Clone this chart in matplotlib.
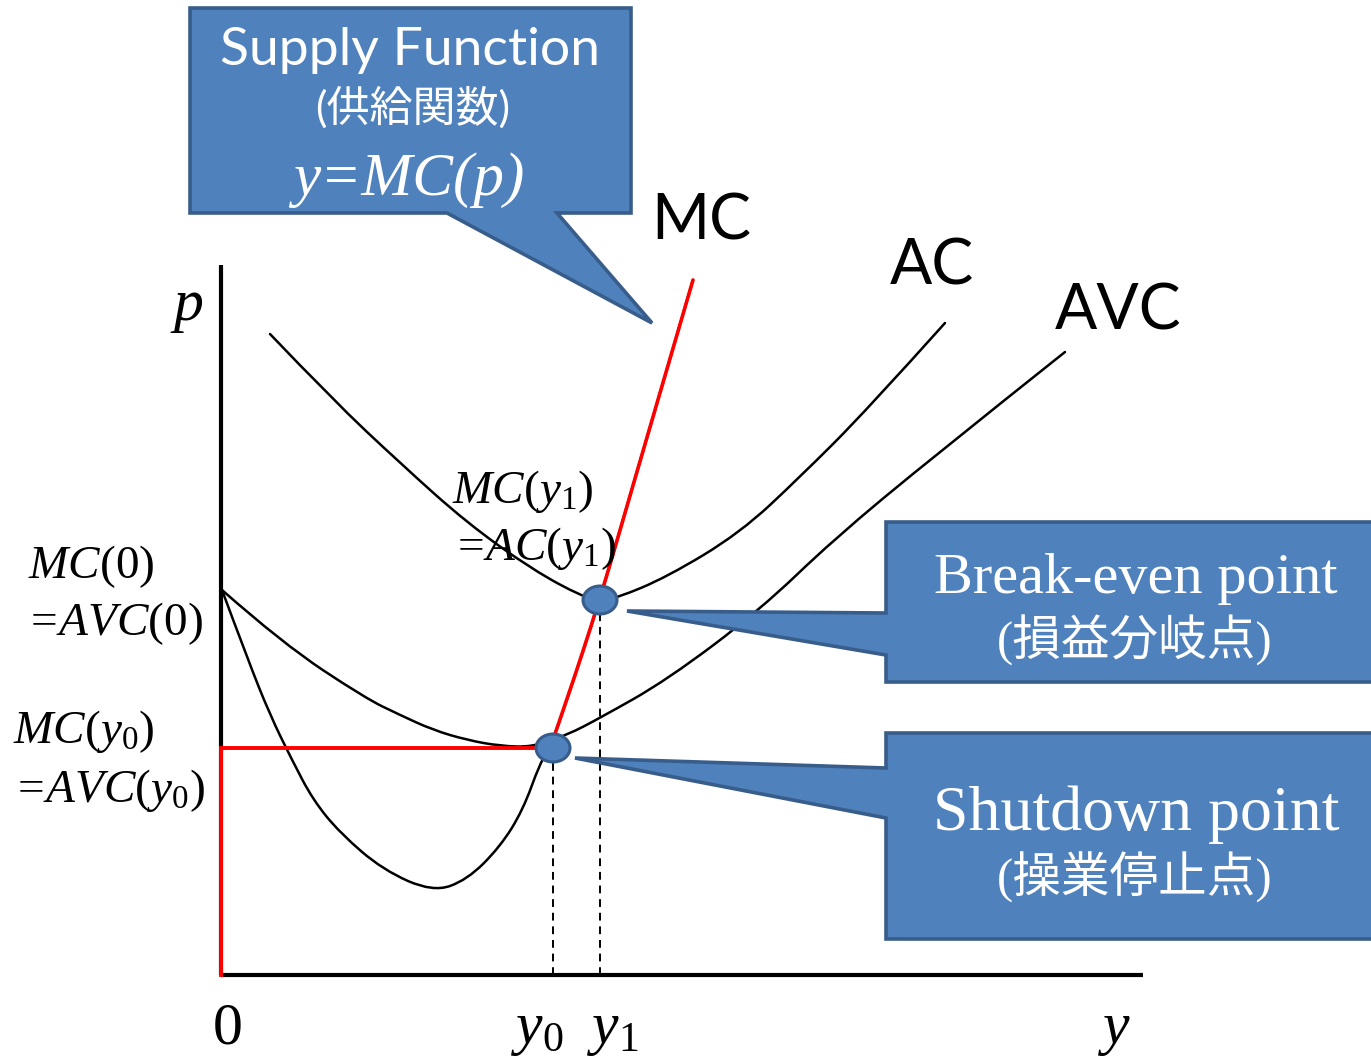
import matplotlib
matplotlib.use("Agg")
import matplotlib.pyplot as plt
from matplotlib.patches import Polygon, Ellipse, PathPatch
from matplotlib.path import Path

plt.rcParams['mathtext.fontset'] = 'custom'
plt.rcParams['mathtext.rm'] = 'Liberation Serif'
plt.rcParams['mathtext.it'] = 'Liberation Serif:italic'

# curves (quantity y on x-axis, price p on y-axis)
mc_y = [0.01, 0.27, 0.49, 0.71, 0.92, 1.19, 1.62, 2.12, 2.46, 2.79, 3.02, 3.19, 3.29, 3.46, 3.79, 4.04, 4.29, 4.72]
mc_p = [3.85, 3.15, 2.60, 2.15, 1.75, 1.42, 1.05, 0.83, 0.95, 1.28, 1.65, 2.12, 2.27, 2.75, 3.76, 4.62, 5.48, 6.95]

avc_y = [0.01, 0.61, 1.44, 1.79, 2.12, 2.46, 2.79, 3.12, 3.46, 3.79, 4.46, 5.39, 6.12, 7.12, 8.44]
avc_p = [3.85, 3.32, 2.77, 2.60, 2.45, 2.35, 2.29, 2.28, 2.40, 2.57, 2.95, 3.65, 4.35, 5.18, 6.23]

ac_y = [0.49, 1.12, 1.79, 2.46, 3.12, 3.62, 3.79, 3.96, 4.46, 5.19, 5.79, 6.46, 7.24]
ac_p = [6.41, 5.75, 5.12, 4.52, 4.05, 3.78, 3.75, 3.77, 3.98, 4.42, 4.98, 5.65, 6.52]

# key points
y0, p0 = 3.32, 2.27   # shutdown
y1, p1 = 3.79, 3.75   # break-even

# supply curve (red): zero up to p0, then MC
floor_y = [0, 0, 3.29]
floor_p = [0, p0, p0]
supply_y = [3.29, 3.46, 3.79, 4.04, 4.29, 4.72]
supply_p = [p0, 2.75, 3.76, 4.62, 5.48, 6.95]

fill = '#4F81BD'
edge = '#385D8A'
jp = 'Noto Sans CJK JP'


def smooth(ax, xs, ys, **kw):
    # quadratic bezier through the midpoints, read points as controls
    pts = list(zip(xs, ys))
    verts = [pts[0]]
    codes = [Path.MOVETO]
    for i in range(1, len(pts) - 1):
        mid = ((pts[i][0] + pts[i + 1][0]) / 2, (pts[i][1] + pts[i + 1][1]) / 2)
        if i == len(pts) - 2:
            mid = pts[-1]
        verts += [pts[i], mid]
        codes += [Path.CURVE3, Path.CURVE3]
    ax.add_patch(PathPatch(Path(verts, codes), fill=False, capstyle='round', **kw))


fig = plt.figure(figsize=(13.71, 10.62), dpi=100)
ax = fig.add_axes([0, 0, 1, 1])
ax.set_xlim(-2.21, 11.50)
ax.set_ylim(-0.87, 9.75)
ax.axis('off')

# axes
ax.plot([0, 0], [0, 7.10], color='black', lw=3, solid_capstyle='butt')
ax.plot([0, 9.22], [0, 0], color='black', lw=3, solid_capstyle='butt')

# guides
ax.plot([y0, y0], [0, p0 - 0.15], color='black', lw=1.4, dashes=(4, 3))
ax.plot([y1, y1], [0, p1 - 0.15], color='black', lw=1.4, dashes=(4, 3))

# cost curves
smooth(ax, ac_y, ac_p, edgecolor='black', lw=1.8)
smooth(ax, avc_y, avc_p, edgecolor='black', lw=1.8)
smooth(ax, mc_y, mc_p, edgecolor='black', lw=1.8)
ax.plot(floor_y, floor_p, color='red', lw=2.8, solid_joinstyle='miter')
smooth(ax, supply_y, supply_p, edgecolor='red', lw=2.6, zorder=3)

for (px, pp) in [(y0, p0), (y1, p1)]:
    ax.add_patch(Ellipse((px, pp), 0.34, 0.28, facecolor=fill, edgecolor=edge, lw=2.2, zorder=5))

# callouts
supply_box = [(-0.31, 9.67), (4.10, 9.67), (4.10, 7.62), (3.36, 7.62), (4.31, 6.52), (2.26, 7.62), (-0.31, 7.62)]
be_box = [(6.65, 4.53), (11.8, 4.53), (11.8, 2.93), (6.65, 2.93), (6.65, 3.20), (4.06, 3.64), (6.65, 3.62)]
sd_box = [(6.65, 2.42), (11.8, 2.42), (11.8, 0.36), (6.65, 0.36), (6.65, 1.57), (3.54, 2.17), (6.65, 2.07)]
for pts in [supply_box, be_box, sd_box]:
    ax.add_patch(Polygon(pts, closed=True, facecolor=fill, edgecolor=edge, lw=2.6,
                         joinstyle='miter', zorder=4))

ax.text(1.89, 9.10, 'Supply Function', color='white', family='Lato', fontsize=38.5,
        ha='center', va='baseline', zorder=6)
ax.text(1.92, 8.67, '(供給関数)', color='white', family=['Lato', jp], fontsize=31,
        ha='center', va='center', zorder=6)
ax.text(1.88, 7.80, 'y=MC(p)', color='white', family='Liberation Serif', style='italic',
        fontsize=44, ha='center', va='baseline', zorder=6)

ax.text(9.15, 3.82, 'Break-even point', color='white', family='Liberation Serif', fontsize=42,
        ha='center', va='baseline', zorder=6)
ax.text(9.14, 3.35, '(損益分岐点)', color='white', family=['Liberation Serif', jp], fontsize=35,
        ha='center', va='center', zorder=6)
ax.text(9.15, 1.45, 'Shutdown point', color='white', family='Liberation Serif', fontsize=46,
        ha='center', va='baseline', zorder=6)
ax.text(9.14, 0.98, '(操業停止点)', color='white', family=['Liberation Serif', jp], fontsize=35,
        ha='center', va='center', zorder=6)

# curve names
ax.text(4.80, 7.35, 'MC', family='Lato', fontsize=45, ha='center', va='baseline')
ax.text(7.11, 6.90, 'AC', family='Lato', fontsize=45, ha='center', va='baseline')
ax.text(8.97, 6.45, 'AVC', family='Lato', fontsize=45, ha='center', va='baseline')

# axis labels
ax.text(-0.34, 6.55, r'$p$', fontsize=43, ha='center', va='baseline')
ax.text(8.94, -0.68, r'$y$', fontsize=43, ha='center', va='baseline')
ax.text(0.06, -0.68, r'$0$', fontsize=43, ha='center', va='baseline')
ax.text(3.16, -0.68, r'$y_0$', fontsize=43, ha='center', va='baseline')
ax.text(3.92, -0.68, r'$y_1$', fontsize=43, ha='center', va='baseline')

# point labels
ax.text(-1.93, 3.97, r'$MC(0)$', fontsize=34, ha='left', va='baseline')
ax.text(-1.97, 3.40, r'$=\!AVC(0)$', fontsize=34, ha='left', va='baseline')
ax.text(-2.08, 2.32, r'$MC(y_0)$', fontsize=34, ha='left', va='baseline')
ax.text(-2.10, 1.73, r'$=\!AVC(y_0)$', fontsize=34, ha='left', va='baseline')
ax.text(2.31, 4.72, r'$MC(y_1)$', fontsize=34, ha='left', va='baseline')
ax.text(2.30, 4.15, r'$=\!AC(y_1)$', fontsize=34, ha='left', va='baseline')

fig.savefig('out.png', dpi=100)
plt.close()
